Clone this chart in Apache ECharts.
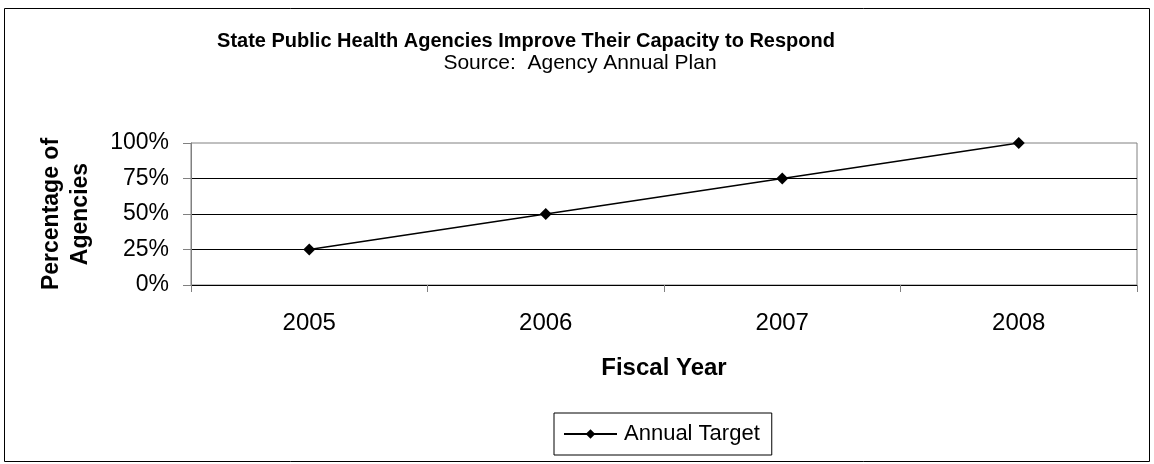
<!DOCTYPE html>
<html><head><meta charset="utf-8">
<script src="https://cdn.jsdelivr.net/npm/echarts@6/dist/echarts.min.js"></script>
<style>html,body{margin:0;padding:0;background:#fff}#c{width:1154px;height:464px}</style>
</head><body><div id="c"></div>
<script>
const categories = ['2005', '2006', '2007', '2008'];
const annualTarget = [25, 50, 75, 100];
const yTicks = [0, 25, 50, 75, 100];

const chart = echarts.init(document.getElementById('c'));
const font = 'Arial, "Liberation Sans", sans-serif';
chart.setOption({
  animation: false,
  backgroundColor: '#fff',
  textStyle: { fontFamily: font },
  graphic: [{
    type: 'rect', shape: { x: 4.5, y: 8.5, width: 1145, height: 453 },
    style: { fill: 'none', stroke: '#000', lineWidth: 1 }, silent: true
  }],
  title: [{
    text: 'State Public Health Agencies Improve Their Capacity to Respond',
    left: 526, top: 31, textAlign: 'center', padding: 0,
    textStyle: { fontFamily: font, fontWeight: 'bold', fontSize: 20, color: '#000' }
  }, {
    text: 'Source:  Agency Annual Plan',
    left: 580, top: 53, textAlign: 'center', padding: 0,
    textStyle: { fontFamily: font, fontWeight: 'normal', fontSize: 21, color: '#000' }
  }],
  grid: { left: 191, right: 17, top: 143, bottom: 179, show: true, borderColor: '#808080', borderWidth: 1 },
  xAxis: {
    type: 'category', data: categories, boundaryGap: true,
    name: 'Fiscal Year', nameLocation: 'middle', nameGap: 71,
    nameTextStyle: { fontFamily: font, fontWeight: 'bold', fontSize: 24, color: '#000' },
    axisLine: { lineStyle: { color: '#000', width: 1 } },
    axisTick: { show: true, length: 7, interval: 0, lineStyle: { color: '#808080' } },
    axisLabel: { margin: 26, fontFamily: font, fontSize: 24, color: '#000' }
  },
  yAxis: {
    type: 'value', min: 0, max: 100, interval: 25,
    name: 'Percentage of\nAgencies', nameLocation: 'middle', nameGap: 96, nameRotate: 90,
    nameTextStyle: { fontFamily: font, fontWeight: 'bold', fontSize: 23, color: '#000', lineHeight: 29 },
    axisLine: { show: true, lineStyle: { color: '#808080', width: 1 } },
    axisTick: { show: true, length: 8, lineStyle: { color: '#808080' } },
    axisLabel: { margin: 22, fontFamily: font, fontSize: 23, color: '#000',
      formatter: v => yTicks.includes(v) ? v + '%' : '' },
    splitLine: { show: true, showMaxLine: false, lineStyle: { color: '#000', width: 1 } }
  },
  legend: {
    bottom: 9, left: 554,
    itemWidth: 53, itemHeight: 12,
    padding: [10, 12, 10, 9],
    borderColor: '#000', borderWidth: 1,
    textStyle: { fontFamily: font, fontSize: 22, color: '#000', padding: [0, 0, 0, 2] },
    data: ['Annual Target']
  },
  series: [{
    name: 'Annual Target', type: 'line', data: annualTarget,
    symbol: 'diamond', symbolSize: 12,
    lineStyle: { color: '#000', width: 1.5 },
    itemStyle: { color: '#000' }
  }]
});
</script></body></html>
